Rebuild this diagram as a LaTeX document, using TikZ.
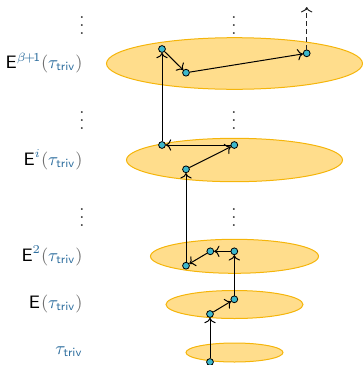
\documentclass[tikz,border=0pt]{standalone}
\usepackage{amsmath,amssymb}
\usepackage{xcolor}
\usepackage{tikz}
\usetikzlibrary{arrows.meta}
\definecolor{layerF}{HTML}{FFDD8C}
\definecolor{layerD}{HTML}{F5B50A}
\definecolor{stepC}{HTML}{3DB8CC}
\definecolor{triv}{HTML}{2E6E9E}
\definecolor{paren}{HTML}{6E6E6E}
\newcommand{\ttriv}{\textcolor{triv}{\tau_{\mathsf{triv}}}}
\newcommand{\Eit}[1]{\mathsf{E}^{\textcolor{triv}{#1}}\textcolor{paren}{(}\ttriv\textcolor{paren}{)}}

\begin{document}
\begin{tikzpicture}[x=0.5pt, y=0.5pt, yscale=-1, >={To},
  pt/.style={circle, fill=stepC, draw=black, line width=0.4pt, inner sep=0pt, minimum size=3.4pt},
  lab/.style={anchor=east, inner sep=0pt, font=\small},
  hop/.style={->, line width=0.5pt}]
\useasboundingbox (0,0) rectangle (363,365);
% the layers E^k(tau_triv), bottom to top
\foreach \cy/\rx/\ry in {352.5/48.5/9.5, 304.5/68.5/14, 256.3/84/17, 160/108/21.7, 63.5/128/25.8}
  \filldraw[fill=layerF, draw=layerD, line width=0.5pt] (234.5,\cy) ellipse [x radius=\rx, y radius=\ry];
% labels on the left
\node[lab] (l0) at (83,352) {$\ttriv$};
\node[lab] (l1) at (83,304) {$\Eit{}$};
\node[lab] (l2) at (83,256) {$\Eit{2}$};
\node[lab] (l3) at (83,160) {$\Eit{i}$};
\node[lab] (l4) at (83,63) {$\Eit{\beta\mkern-2mu+\mkern-2mu\mathsf{1}}$};
\foreach \vx/\vy in {82/20, 234/20, 82/115, 234/115, 82/212, 234/212}
  \node[text=black!80, inner sep=0pt, font=\small] at (\vx,\vy) {$\vdots$};
% the walk through the layers
\node[pt] (t0) at (210,362) {};
\node[pt] (a1) at (210,314) {};
\node[pt] (a2) at (234.3,299.3) {};
\node[pt] (b1) at (234.3,251.3) {};
\node[pt] (b2) at (210.3,251.3) {};
\node[pt] (b3) at (186,265.7) {};
\node[pt] (c1) at (186,169.3) {};
\node[pt] (c2) at (234.3,145) {};
\node[pt] (c3) at (162,145) {};
\node[pt] (d1) at (162,49) {};
\node[pt] (d2) at (186,72.7) {};
\node[pt] (d3) at (306.7,53.3) {};
\coordinate (up) at (306.7,7);
\foreach \s/\t in {t0/a1, a1/a2, a2/b1, b1/b2, b2/b3, b3/c1, c1/c2, c2/c3, c3/d1, d1/d2, d2/d3}
  \draw[hop] (\s) -- (\t);
\draw[hop, dash pattern=on 2.5pt off 1.5pt, black!85] (d3) -- (up);
\end{tikzpicture}
\end{document}
